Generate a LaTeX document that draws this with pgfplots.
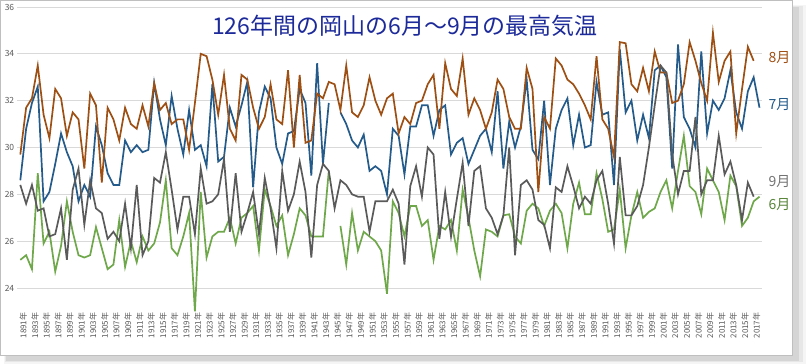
\documentclass[border=0pt]{standalone}
\usepackage{fontspec}
\setmainfont{Noto Sans CJK JP}
\usepackage{pgfplots}
\usepackage{pgfplotstable}
\pgfplotsset{compat=1.18}
\definecolor{augc}{HTML}{9E5014}
\definecolor{julc}{HTML}{245B8A}
\definecolor{sepc}{HTML}{5A5A5A}
\definecolor{junc}{HTML}{6FA84A}
\definecolor{titlec}{HTML}{1C2A9A}
\definecolor{gridc}{HTML}{D9D9D9}
\definecolor{tickc}{HTML}{595959}
\pgfplotstableread{
yr jun jul aug sep
1891 25.2 28.6 29.7 28.4
1892 25.4 30.8 31.7 27.6
1893 24.8 31.9 32.1 28.4
1894 28.9 32.6 33.5 27.3
1895 25.9 27.7 31.4 27.4
1896 26.4 28.1 30.4 26.2
1897 24.7 29.3 32.5 26.3
1898 25.8 30.6 32.1 27.4
1899 27.7 29.8 30.5 25.2
1900 26.4 29.2 31.5 28.2
1901 25.4 27.7 31.2 29.1
1902 25.3 28.4 29.1 26.7
1903 25.4 27.9 32.3 28.6
1904 26.6 30.9 31.8 27.4
1905 25.7 30.1 28.5 27.2
1906 24.8 28.9 31.7 26.1
1907 25.0 28.4 31.2 26.4
1908 26.9 28.4 30.3 26.0
1909 24.9 30.3 31.7 27.6
1910 26.0 29.8 31.0 25.7
1911 25.1 30.1 30.8 28.4
1912 26.2 29.8 31.8 25.4
1913 25.6 29.9 30.9 26.0
1914 25.9 32.75 32.75 28.7
1915 26.8 31.2 31.6 28.5
1916 28.6 30.1 31.9 29.8
1917 25.7 32.2 31.0 28.2
1918 25.4 30.8 31.2 26.5
1919 26.2 29.7 31.2 27.9
1920 27.2 31.6 29.9 27.9
1921 23.0 29.9 31.9 26.3
1922 28.1 30.1 34.0 29.1
1923 25.3 29.2 33.9 27.6
1924 26.2 32.7 32.9 27.7
1925 26.4 29.4 31.4 28.0
1926 26.4 29.6 33.1 29.5
1927 27.0 31.7 30.8 26.4
1928 25.9 30.9 30.3 28.9
1929 27.0 31.8 33.1 26.4
1930 27.2 32.8 32.9 27.2
1931 27.5 28.3 31.7 28.1
1932 25.6 31.5 30.8 26.3
1933 28.2 32.6 31.3 28.7
1934 27.5 32.1 32.7 27.4
1935 26.65 30.0 31.2 25.7
1936 27.1 29.3 31.0 29.0
1937 25.4 30.6 33.3 27.3
1938 26.3 30.7 30.0 28.0
1939 27.4 32.5 33.1 29.4
1940 27.1 31.9 30.2 28.1
1941 26.2 28.8 30.3 25.3
1942 26.2 33.6 32.3 28.4
1943 26.2 29.3 32.1 29.3
1944 29.0 31.9 32.8 29.0
1945 nan nan 32.7 27.4
1946 26.65 31.5 31.6 28.6
1947 25.0 31.0 33.5 28.4
1948 27.2 30.3 31.5 28.0
1949 25.6 30.0 31.3 27.9
1950 26.4 30.55 31.8 27.9
1951 26.2 29.0 33.0 26.4
1952 26.0 29.2 32.0 27.7
1953 25.6 29.0 31.4 27.7
1954 23.75 28.0 32.1 27.7
1955 27.7 30.8 32.3 28.2
1956 27.2 30.5 30.6 27.6
1957 26.2 28.85 31.3 25.0
1958 27.5 30.9 31.0 28.35
1959 27.5 30.9 31.9 29.2
1960 26.65 31.8 32.0 27.9
1961 26.9 31.8 32.7 30.0
1962 25.2 30.5 33.1 29.7
1963 26.65 31.6 30.8 26.1
1964 26.5 31.8 33.6 28.1
1965 26.9 29.7 32.5 26.2
1966 25.6 30.2 32.2 27.8
1967 28.2 30.4 33.8 29.35
1968 27.0 29.3 31.4 26.65
1969 25.6 29.9 32.1 29.0
1970 24.5 30.5 31.6 29.2
1971 26.5 30.8 30.8 27.4
1972 26.4 29.8 31.5 27.0
1973 26.2 32.4 32.9 26.3
1974 27.1 29.1 32.5 27.1
1975 27.15 31.1 31.3 30.0
1976 26.2 30.0 30.8 25.4
1977 25.9 30.9 30.8 28.4
1978 27.3 32.9 33.4 28.6
1979 27.6 29.9 32.5 28.2
1980 27.4 29.5 28.1 26.9
1981 26.65 32.0 31.3 26.7
1982 27.3 28.4 30.8 25.7
1983 27.6 30.8 33.8 28.3
1984 27.2 31.6 33.5 28.1
1985 25.7 32.1 32.9 29.2
1986 27.6 30.1 32.7 28.35
1987 28.5 31.4 32.3 27.4
1988 27.15 30.0 31.8 27.9
1989 27.15 30.1 31.2 27.6
1990 28.9 32.8 33.9 28.6
1991 27.8 31.4 31.2 29.0
1992 26.4 31.5 30.8 27.6
1993 26.5 28.4 29.6 25.9
1994 28.2 34.2 34.5 29.6
1995 25.7 31.5 34.45 27.1
1996 27.1 32.0 32.7 27.1
1997 28.1 30.3 32.4 27.5
1998 27.0 31.4 33.4 28.4
1999 27.25 30.4 32.4 30.0
2000 27.4 33.3 34.1 31.8
2001 28.1 33.5 33.2 33.5
2002 28.6 33.0 33.2 33.2
2003 27.4 29.1 31.9 29.7
2004 29.0 34.4 32.0 28.0
2005 30.5 31.3 32.7 29.0
2006 28.35 30.8 34.5 29.0
2007 28.1 30.0 33.7 31.3
2008 27.15 34.1 32.75 28.0
2009 29.1 30.6 32.0 28.6
2010 28.6 32.0 34.9 28.6
2011 28.1 31.6 32.8 30.5
2012 26.9 32.1 33.7 28.85
2013 28.8 33.3 34.1 29.4
2014 28.35 31.5 30.6 28.4
2015 26.65 30.8 32.5 26.9
2016 27.0 32.4 34.3 28.5
2017 27.7 33.0 33.7 27.9
2018 27.9 31.7 nan nan
}\data
\begin{document}
\begin{tikzpicture}[x=1pt,y=1pt]
\useasboundingbox (0,0) rectangle (809,364);
\fill[black,opacity=0.04] (4,0) rectangle (806,359);
\fill[black,opacity=0.06] (5,1.5) rectangle (803,358);
\fill[black,opacity=0.08] (6,3) rectangle (799,357);
\fill[white] (0.5,9) rectangle (792,363.5);
\draw[black!25, line width=0.8pt] (0.5,9) rectangle (792,363.5);
\begin{axis}[
  at={(17.4pt,52.6pt)}, anchor=south west,
  scale only axis, width=745pt, height=304.4pt,
  xmin=1890.5, xmax=2018.5, ymin=23, ymax=36,
  axis line style={draw=none},
  major tick length=0pt,
  ytick={24,26,...,36},
  ymajorgrids, grid style={color=gridc, line width=0.9pt},
  xtick={1891,1893,...,2017},
  /pgf/number format/assume math mode=true,
  xticklabel={\pgfmathprintnumber[fixed,precision=0,1000 sep={}]{\tick}年},
  xticklabel style={rotate=90, anchor=east, font=\fontsize{8}{9}\selectfont, text=tickc, inner sep=1pt, yshift=-3pt},
  yticklabel style={font=\fontsize{8.5}{9}\selectfont, text=tickc, inner sep=1pt, xshift=-2pt},
  unbounded coords=jump,
]
\addplot[junc, line width=1.7pt] table[x=yr,y=jun]{\data};
\addplot[julc, line width=1.7pt] table[x=yr,y=jul]{\data};
\addplot[augc, line width=1.7pt] table[x=yr,y=aug]{\data};
\addplot[sepc, line width=1.7pt] table[x=yr,y=sep]{\data};
\end{axis}
\node[text=titlec, font=\fontsize{23}{23}\selectfont] at (405,338) {126年間の岡山の6月～9月の最高気温};
\node[anchor=west, text=augc, font=\fontsize{14}{14}\selectfont] at (765,306) {8月};
\node[anchor=west, text=julc, font=\fontsize{14}{14}\selectfont] at (765,259) {7月};
\node[anchor=west, text=black!55, font=\fontsize{14}{14}\selectfont] at (765,182) {9月};
\node[anchor=west, text=junc!80!black, font=\fontsize{14}{14}\selectfont] at (765,159) {6月};
\end{tikzpicture}
\end{document}
